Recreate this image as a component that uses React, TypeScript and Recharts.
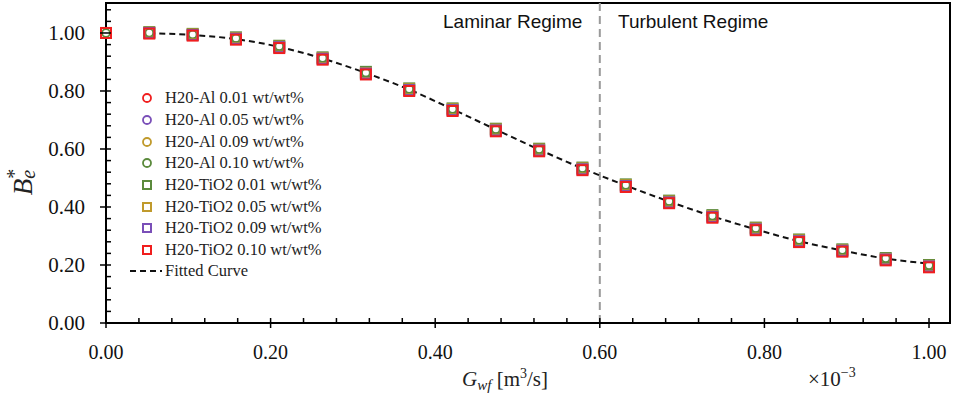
import { ComposedChart, Scatter, Line, XAxis, YAxis, ReferenceLine, ReferenceArea } from "recharts";

// flow rate (x1e-3 m3/s), 20 sample points
const gwf = [0, 0.0526, 0.1053, 0.1579, 0.2105, 0.2632, 0.3158, 0.3684, 0.4211, 0.4737, 0.5263, 0.5789, 0.6316, 0.6842, 0.7368, 0.7895, 0.8421, 0.8947, 0.9474, 1.0];

const al001 = [1.0, 0.999, 0.993, 0.98, 0.951, 0.911, 0.861, 0.804, 0.735, 0.665, 0.596, 0.531, 0.473, 0.417, 0.367, 0.324, 0.283, 0.25, 0.22, 0.196];
const al005 = [1.0, 1.0, 0.994, 0.981, 0.952, 0.912, 0.862, 0.805, 0.736, 0.666, 0.597, 0.532, 0.474, 0.418, 0.368, 0.325, 0.284, 0.251, 0.221, 0.197];
const al009 = [1.0, 1.0, 0.994, 0.981, 0.953, 0.913, 0.862, 0.806, 0.737, 0.667, 0.598, 0.533, 0.475, 0.419, 0.369, 0.326, 0.285, 0.251, 0.222, 0.198];
const al010 = [1.0, 1.001, 0.995, 0.982, 0.954, 0.914, 0.863, 0.807, 0.738, 0.668, 0.599, 0.534, 0.476, 0.42, 0.37, 0.327, 0.286, 0.252, 0.223, 0.199];
const ti001 = [1.0, 1.003, 0.997, 0.985, 0.956, 0.916, 0.866, 0.809, 0.74, 0.67, 0.601, 0.536, 0.478, 0.422, 0.372, 0.329, 0.288, 0.254, 0.224, 0.2];
const ti005 = [1.0, 1.001, 0.995, 0.982, 0.953, 0.913, 0.862, 0.806, 0.737, 0.667, 0.598, 0.533, 0.475, 0.419, 0.369, 0.326, 0.285, 0.251, 0.221, 0.197];
const ti009 = [1.0, 1.0, 0.993, 0.98, 0.951, 0.911, 0.86, 0.803, 0.734, 0.664, 0.595, 0.53, 0.472, 0.416, 0.366, 0.323, 0.282, 0.249, 0.219, 0.195];
const ti010 = [1.0, 0.998, 0.991, 0.977, 0.948, 0.908, 0.857, 0.8, 0.731, 0.661, 0.592, 0.527, 0.469, 0.413, 0.363, 0.32, 0.279, 0.246, 0.216, 0.192];

// fitted curve (starts at 2nd sample)
const fitted = [null, 0.999, 0.993, 0.979, 0.952, 0.912, 0.862, 0.805, 0.737, 0.667, 0.598, 0.533, 0.474, 0.419, 0.368, 0.323, 0.282, 0.25, 0.222, 0.205];

const xMajor = [0, 0.2, 0.4, 0.6, 0.8, 1.0];
const yMajor = [0, 0.2, 0.4, 0.6, 0.8, 1.0];
const xTicks = Array.from({ length: 26 }, (_, i) => Math.round(i * 4) / 100);
const yTicks = Array.from({ length: 28 }, (_, i) => Math.round(i * 4) / 100);

const RED = "#f01e1e";
const PURPLE = "#7a4fb8";
const GOLD = "#c09a2c";
const GREEN = "#5b8a3c";

const series = [
  { name: "H20-Al 0.01 wt/wt%", vals: al001, color: RED, kind: "circle" },
  { name: "H20-Al 0.05 wt/wt%", vals: al005, color: PURPLE, kind: "circle" },
  { name: "H20-Al 0.09 wt/wt%", vals: al009, color: GOLD, kind: "circle" },
  { name: "H20-Al 0.10 wt/wt%", vals: al010, color: GREEN, kind: "circle" },
  { name: "H20-TiO2 0.01 wt/wt%", vals: ti001, color: GREEN, kind: "square" },
  { name: "H20-TiO2 0.05 wt/wt%", vals: ti005, color: GOLD, kind: "square" },
  { name: "H20-TiO2 0.09 wt/wt%", vals: ti009, color: PURPLE, kind: "square" },
  { name: "H20-TiO2 0.10 wt/wt%", vals: ti010, color: RED, kind: "square" },
];

const toPts = (vals: (number | null)[]) => gwf.map((x, i) => ({ x, y: vals[i] }));

const isMajor = (v: number, majors: number[]) => majors.some((m) => Math.abs(m - v) < 1e-6);

const SERIF = "'Liberation Serif', serif";

const XTick = ({ x, y, payload }: any) => {
  const major = isMajor(payload.value, xMajor);
  return (
    <g>
      <line x1={x} x2={x} y1={y - 5} y2={major ? y + 5 : y} stroke="#000" strokeWidth={1.5} />
      {major && (
        <text x={x} y={y + 36} textAnchor="middle" fontFamily={SERIF} fontSize={20} fill="#111">
          {payload.value.toFixed(2)}
        </text>
      )}
    </g>
  );
};

const YTick = ({ x, y, payload }: any) => {
  const major = isMajor(payload.value, yMajor);
  return (
    <g>
      <line x1={major ? x - 6 : x} x2={x + 5} y1={y} y2={y} stroke="#000" strokeWidth={1.5} />
      {major && (
        <text x={x - 21} y={y + 7} textAnchor="end" fontFamily={SERIF} fontSize={21} fill="#111">
          {payload.value.toFixed(2)}
        </text>
      )}
    </g>
  );
};

const circleShape = (color: string) => (p: any) =>
  <circle cx={p.cx} cy={p.cy} r={3.8} fill="#fff" stroke={color} strokeWidth={1.6} />;
const squareShape = (color: string) => (p: any) =>
  <rect x={p.cx - 5} y={p.cy - 5} width={10} height={10} fill="none" stroke={color} strokeWidth={2} />;

export default function App() {
  return (
    <div style={{ position: "relative", width: 953, height: 394, background: "#fff" }}>
      <style>{"body{margin:0}"}</style>
      <ComposedChart width={953} height={394} margin={{ top: 3, right: 3, bottom: 0, left: 0 }}>
        <XAxis
          type="number"
          dataKey="x"
          domain={[0, 1.0255]}
          ticks={xTicks}
          interval={0}
          tickSize={0}
          tickMargin={0}
          tickLine={false}
          tick={<XTick />}
          height={71}
          axisLine={{ stroke: "#000", strokeWidth: 2 }}
        />
        <YAxis
          type="number"
          dataKey="y"
          domain={[0, 1.1034]}
          ticks={yTicks}
          interval={0}
          tickSize={0}
          tickMargin={0}
          tickLine={false}
          tick={<YTick />}
          width={106}
          axisLine={{ stroke: "#000", strokeWidth: 2 }}
        />
        <ReferenceArea x1={0} x2={1.0255} y1={0} y2={1.1034} fill="none" stroke="#000" strokeWidth={2} fillOpacity={0} />
        <ReferenceLine x={0.6} stroke="#9a9a9a" strokeWidth={2} strokeDasharray="8 5" />
        <Line
          data={toPts(fitted)}
          dataKey="y"
          type="monotone"
          stroke="#111"
          strokeWidth={2}
          strokeDasharray="6 4"
          dot={false}
          activeDot={false}
          isAnimationActive={false}
        />
        {series.map((s) => (
          <Scatter
            key={s.name}
            name={s.name}
            data={toPts(s.vals)}
            shape={s.kind === "circle" ? circleShape(s.color) : squareShape(s.color)}
            isAnimationActive={false}
          />
        ))}
      </ComposedChart>

      {/* annotations */}
      <svg width={953} height={394} style={{ position: "absolute", left: 0, top: 0, pointerEvents: "none" }}>
        <text x={443} y={28} fontFamily="'Liberation Sans', sans-serif" fontSize={19} fill="#111">Laminar Regime</text>
        <text x={618} y={28} fontFamily="'Liberation Sans', sans-serif" fontSize={19} fill="#111">Turbulent Regime</text>
        <text x={505} y={386} textAnchor="middle" fontFamily={SERIF} fontSize={21} fill="#222">
          <tspan fontStyle="italic">G</tspan>
          <tspan fontStyle="italic" fontSize={15} dy={4}>wf</tspan>
          <tspan dy={-4}>{"  [m"}</tspan>
          <tspan fontSize={14} dy={-8}>3</tspan>
          <tspan dy={8}>/s]</tspan>
        </text>
        <text x={808} y={386} fontFamily={SERIF} fontSize={21} fill="#222">
          ×10<tspan fontSize={14} dy={-9}>−3</tspan>
        </text>
        <text x={32} y={182} transform="rotate(-90, 32, 182)" textAnchor="middle" fontFamily={SERIF} fontSize={27} fill="#222">
          <tspan fontStyle="italic">B</tspan>
          <tspan fontStyle="italic" fontSize={20} dy={3}>e</tspan>
          <tspan fontSize={20} dx={-9} dy={-14}>*</tspan>
        </text>
      </svg>

      {/* legend */}
      <div style={{ position: "absolute", left: 128, top: 87.5, fontFamily: SERIF, fontSize: 16.5, color: "#222" }}>
        {series.map((s) => (
          <div key={s.name} style={{ display: "flex", alignItems: "center", height: 21.65 }}>
            <svg width={37} height={14}>
              {s.kind === "circle" ? (
                <circle cx={19} cy={7} r={4} fill="none" stroke={s.color} strokeWidth={1.8} />
              ) : (
                <rect x={15} y={3} width={8} height={8} fill="none" stroke={s.color} strokeWidth={2} />
              )}
            </svg>
            <span>{s.name}</span>
          </div>
        ))}
        <div style={{ display: "flex", alignItems: "center", height: 21.65 }}>
          <svg width={37} height={14}>
            <line x1={2} x2={34} y1={7} y2={7} stroke="#111" strokeWidth={2} strokeDasharray="6 4" />
          </svg>
          <span>Fitted Curve</span>
        </div>
      </div>
    </div>
  );
}
